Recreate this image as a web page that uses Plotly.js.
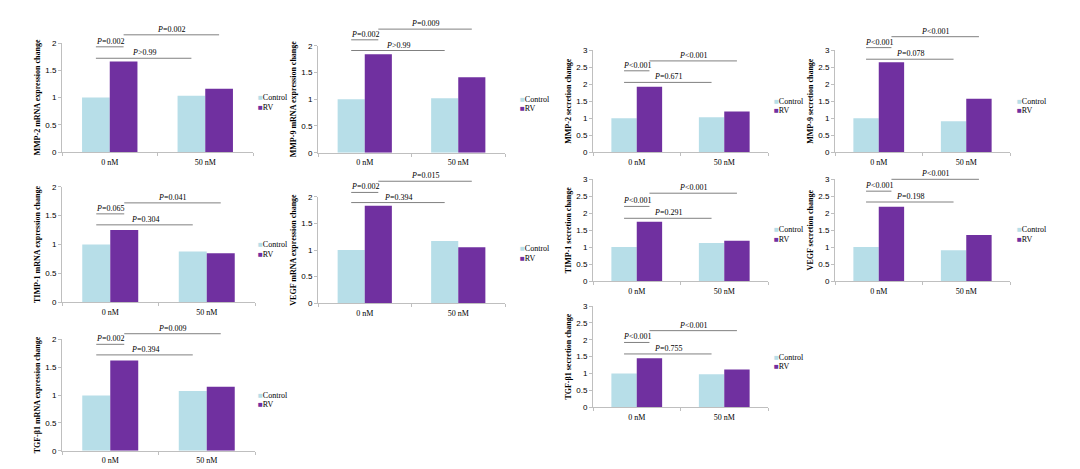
<!DOCTYPE html>
<html><head><meta charset="utf-8">
<script src="https://cdn.plot.ly/plotly-3.0.1.min.js"></script>
<style>html,body{margin:0;padding:0;background:#fff;} #chart{width:1080px;height:469px;}</style>
</head><body><div id="chart"></div>
<script>
// ---------------- DATA ----------------
const categories = ['0 nM', '50 nM'];
const seriesNames = ['Control', 'RV'];

const mmp2MrnaControl = [1.00, 1.03];
const mmp2MrnaRV      = [1.66, 1.16];
const mmp9MrnaControl = [1.00, 1.02];
const mmp9MrnaRV      = [1.84, 1.41];
const mmp2SecControl  = [1.00, 1.03];
const mmp2SecRV       = [1.92, 1.20];
const mmp9SecControl  = [1.00, 0.91];
const mmp9SecRV       = [2.64, 1.57];
const timp1MrnaControl = [1.00, 0.88];
const timp1MrnaRV      = [1.25, 0.85];
const vegfMrnaControl  = [1.00, 1.17];
const vegfMrnaRV       = [1.83, 1.05];
const timp1SecControl  = [1.00, 1.12];
const timp1SecRV       = [1.75, 1.19];
const vegfSecControl   = [1.00, 0.91];
const vegfSecRV        = [2.19, 1.36];
const tgfMrnaControl   = [0.99, 1.07];
const tgfMrnaRV        = [1.62, 1.15];
const tgfSecControl    = [1.00, 0.98];
const tgfSecRV         = [1.45, 1.12];

const yTitles = [
  'MMP-2 mRNA expression change', 'MMP-9 mRNA expression change',
  'MMP-2 secretion change', 'MMP-9 secretion change',
  'TIMP-1 mRNA expression change', 'VEGF mRNA expression change',
  'TIMP-1 secretion change', 'VEGF secretion change',
  'TGF-β1 mRNA expression change', 'TGF-β1 secretion change'
];

// P-values: [Control vs RV at 0 nM, RV 0 nM vs RV 50 nM, Control 0 nM vs Control 50 nM]
const pMmp2Mrna  = ['=0.002', '=0.002', '>0.99'];
const pMmp9Mrna  = ['=0.002', '=0.009', '>0.99'];
const pMmp2Sec   = ['<0.001', '<0.001', '=0.671'];
const pMmp9Sec   = ['<0.001', '<0.001', '=0.078'];
const pTimp1Mrna = ['=0.065', '=0.041', '=0.304'];
const pVegfMrna  = ['=0.002', '=0.015', '=0.394'];
const pTimp1Sec  = ['<0.001', '<0.001', '=0.291'];
const pVegfSec   = ['<0.001', '<0.001', '=0.198'];
const pTgfMrna   = ['=0.002', '=0.009', '=0.394'];
const pTgfSec    = ['<0.001', '<0.001', '=0.755'];

// ---------------- LAYOUT CONFIG ----------------
const W = 1080, H = 469;
const BARGAP = 0.42;
const COL_CTRL = '#b7dee8', COL_RV = '#7030a0';
const SERIF = 'Liberation Serif, Times New Roman, serif';
const SANS = 'Liberation Sans, Arial, sans-serif';

// box: [left, right, top, bottom] in px ; ymax ; legend [x, y of first row] px ; bracket levels (data units): [small, top, mid]
const panels = [
  {c: mmp2MrnaControl, r: mmp2MrnaRV, p: pMmp2Mrna, box: [62, 253, 43, 152], ymax: 2, leg: [257, 98], lv: [1.93, 2.15, 1.72]},
  {c: mmp9MrnaControl, r: mmp9MrnaRV, p: pMmp9Mrna, box: [318, 505, 45.7, 152.7], ymax: 2, leg: [519, 99], lv: [2.11, 2.31, 1.91]},
  {c: mmp2SecControl, r: mmp2SecRV, p: pMmp2Sec, box: [593, 768, 50, 152.3], ymax: 3, leg: [773, 101], lv: [2.39, 2.68, 2.05]},
  {c: mmp9SecControl, r: mmp9SecRV, p: pMmp9Sec, box: [835, 1010, 50, 152.3], ymax: 3, leg: [1016, 101], lv: [3.07, 3.39, 2.73]},
  {c: timp1MrnaControl, r: timp1MrnaRV, p: pTimp1Mrna, box: [62, 255, 186.7, 302.3], ymax: 2, leg: [257, 245], lv: [1.53, 1.72, 1.34]},
  {c: vegfMrnaControl, r: vegfMrnaRV, p: pVegfMrna, box: [318, 505, 196.7, 303.3], ymax: 2, leg: [519, 249], lv: [2.08, 2.29, 1.89]},
  {c: timp1SecControl, r: timp1SecRV, p: pTimp1Sec, box: [593, 768, 179.3, 281], ymax: 3, leg: [773, 230], lv: [2.20, 2.59, 1.85]},
  {c: vegfSecControl, r: vegfSecRV, p: pVegfSec, box: [835, 1010, 179.3, 281], ymax: 3, leg: [1016, 230], lv: [2.65, 3.00, 2.33]},
  {c: tgfMrnaControl, r: tgfMrnaRV, p: pTgfMrna, box: [62, 255, 339.3, 450.7], ymax: 2, leg: [257, 395], lv: [1.91, 2.10, 1.72]},
  {c: tgfSecControl, r: tgfSecRV, p: pTgfSec, box: [593, 768, 306, 407.3], ymax: 3, leg: [773, 357], lv: [1.92, 2.27, 1.58]}
];
const LEG_ROW = 9.5; // px between legend rows

const data = [];
const layout = {
  width: W, height: H,
  margin: {l: 0, r: 0, t: 0, b: 0},
  paper_bgcolor: '#ffffff', plot_bgcolor: 'rgba(0,0,0,0)',
  barmode: 'group', bargap: BARGAP, bargroupgap: 0,
  showlegend: false,
  shapes: [], annotations: []
};

const half = (1 - BARGAP) / 4; // offset of each bar centre from category centre
const seriesColors = [COL_CTRL, COL_RV];

panels.forEach((pn, i) => {
  const n = i + 1;
  const sfx = n === 1 ? '' : String(n);
  const xa = 'x' + sfx, ya = 'y' + sfx;
  const [L, R, T, B] = pn.box;
  const yd = [1 - B / H, 1 - T / H];
  [pn.c, pn.r].forEach((vals, s) => {
    data.push({type: 'bar', name: seriesNames[s], x: categories, y: vals, xaxis: xa, yaxis: ya,
               marker: {color: seriesColors[s], line: {width: 0}}, hoverinfo: 'skip'});
  });

  layout['xaxis' + sfx] = {
    domain: [L / W, R / W], anchor: ya, type: 'category', range: [-0.5, 1.5],
    showline: true, linecolor: '#bfbfbf', linewidth: 1,
    ticks: 'outside', tickson: 'boundaries', ticklen: 3, tickcolor: '#bfbfbf',
    ticklabelstandoff: 2,
    showgrid: false, zeroline: false, fixedrange: true,
    tickfont: {family: SERIF, size: 8, color: '#000'}
  };
  layout['yaxis' + sfx] = {
    domain: yd, anchor: xa, range: [0, pn.ymax], dtick: 0.5,
    showline: true, linecolor: '#bfbfbf', linewidth: 1,
    ticks: 'outside', ticklen: 3, tickcolor: '#bfbfbf',
    showgrid: false, zeroline: false, fixedrange: true,
    tickfont: {family: SANS, size: 8, color: '#000'},
    title: {text: yTitles[i], font: {family: SERIF, size: 8, color: '#000', weight: 'bold'}, standoff: 3}
  };

  // legend (one row per series)
  seriesNames.forEach((nm, s) => {
    layout.annotations.push({xref: 'paper', yref: 'paper', x: pn.leg[0] / W, y: 1 - (pn.leg[1] + s * LEG_ROW) / H,
      xanchor: 'left', yanchor: 'middle', showarrow: false, borderpad: 0,
      text: '<span style="color:' + seriesColors[s] + '">■</span>' + nm,
      font: {family: SERIF, size: 8, color: '#000'}});
  });

  const toPaper = v => yd[0] + (v / pn.ymax) * (yd[1] - yd[0]);
  // brackets: small (Control0–RV0), top (RV0–RV50), mid (Control0–Control50)
  const spans = [[0 - half, 0 + half], [0 + half, 1 + half], [0 - half, 1 - half]];
  spans.forEach((sp, k) => {
    const py = toPaper(pn.lv[k]);
    layout.shapes.push({type: 'line', xref: xa, yref: 'paper', x0: sp[0], x1: sp[1], y0: py, y1: py,
                        line: {color: '#808080', width: 1}});
    layout.annotations.push({xref: xa, yref: 'paper', x: (sp[0] + sp[1]) / 2, y: py, yanchor: 'bottom',
                             showarrow: false, text: '<i>P</i>' + pn.p[k], borderpad: 0, yshift: 0,
                             font: {family: SERIF, size: 8, color: '#000'}});
  });
});

Plotly.newPlot('chart', data, layout, {staticPlot: true, displayModeBar: false});
</script>
</body></html>
